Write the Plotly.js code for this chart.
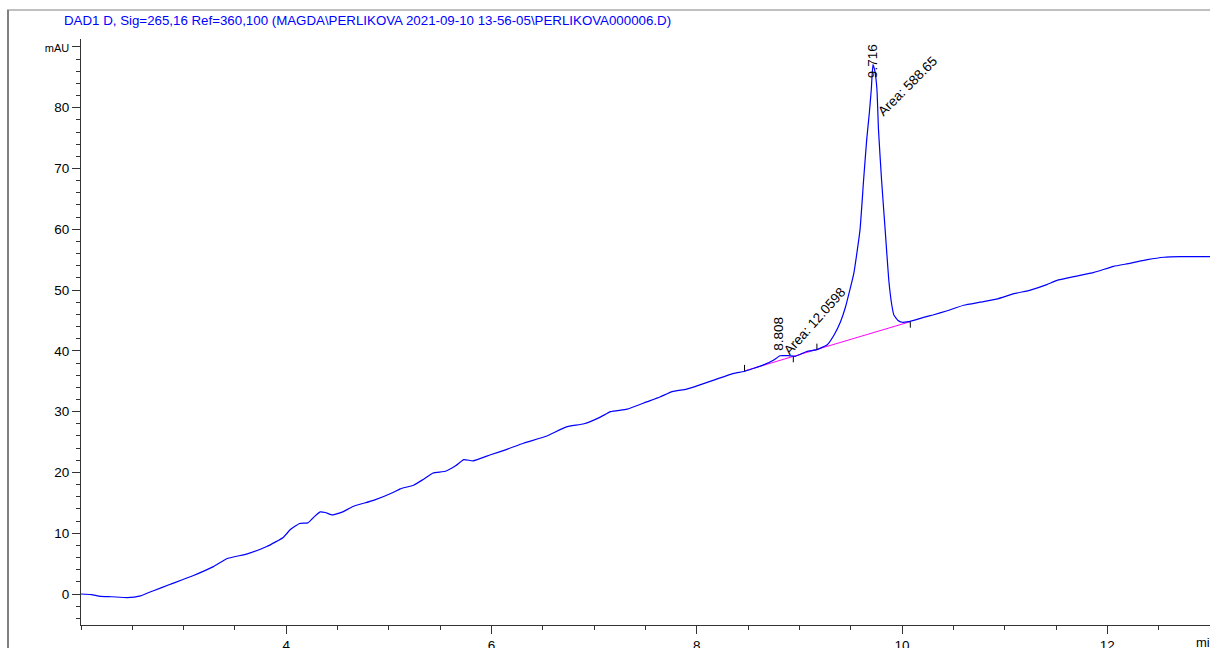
<!DOCTYPE html>
<html>
<head>
<meta charset="utf-8">
<script src="https://cdn.plot.ly/plotly-3.0.1.min.js"></script>
<style>html,body{margin:0;padding:0;background:#fff;}#chart{width:1210px;height:648px;}</style>
</head>
<body>
<div id="chart"></div>
<script>
// Signal (retention time in min, absorbance in mAU)
const timeMin = [2.00,2.10,2.19,2.30,2.45,2.58,2.70,2.87,3.09,3.29,3.42,3.62,3.81,3.97,4.04,4.13,4.21,4.26,4.33,4.38,4.45,4.55,4.65,4.85,5.04,5.11,5.24,5.33,5.43,5.55,5.65,5.73,5.82,5.99,6.15,6.31,6.54,6.73,6.90,7.06,7.16,7.32,7.51,7.64,7.76,7.90,8.03,8.20,8.36,8.46,8.55,8.65,8.75,8.81,8.89,8.96,9.07,9.17,9.27,9.34,9.40,9.45,9.53,9.59,9.625,9.655,9.68,9.70,9.716,9.735,9.755,9.77,9.80,9.835,9.87,9.90,9.92,9.96,10.00,10.06,10.13,10.21,10.30,10.44,10.60,10.76,10.92,11.09,11.25,11.41,11.51,11.67,11.87,12.06,12.22,12.39,12.55,12.71,12.87,13.00];
const signalMAU = [0.0,-0.1,-0.4,-0.45,-0.6,-0.3,0.5,1.6,3.0,4.5,5.8,6.6,7.8,9.3,10.6,11.6,11.7,12.5,13.5,13.4,13.0,13.5,14.4,15.4,16.7,17.3,17.9,18.8,19.9,20.2,21.1,22.1,21.9,22.9,23.8,24.8,26.0,27.5,28.0,29.1,30.0,30.4,31.6,32.4,33.3,33.7,34.4,35.4,36.3,36.6,37.1,37.7,38.5,39.2,39.2,39.1,39.9,40.2,41.0,42.7,44.8,47.3,52.8,59.9,68.1,74.7,79.0,83.0,87.1,86.0,83.0,76.4,68.1,59.9,51.7,47.5,45.9,45.0,44.7,44.8,45.1,45.5,45.9,46.6,47.5,48.0,48.5,49.4,50.0,50.9,51.6,52.2,52.9,53.9,54.4,55.0,55.4,55.5,55.5,55.5];

// Integration baseline events (time, value, tick direction)
const baselineT = [8.465, 8.94, 9.17, 10.08];
const baselineV = [36.7, 39.1, 40.2, 44.8];
const baselineDir = [1, -1, 1, -1];

// Peaks
const peakTimes = [8.808, 9.716];
const peakAreas = [12.0598, 588.65];

// Axis ticks
const yTickVals = [0,10,20,30,40,50,60,70,80,90];
const yTickText = ['0','10','20','30','40','50','60','70','80','<span style="font-size:11px">mAU</span>'];
const xTickVals = [4,6,8,10,12];
const xTickText = ['4','6','8','10','12'];

const titleText = 'DAD1 D, Sig=265,16 Ref=360,100 (MAGDA\\PERLIKOVA 2021-09-10 13-56-05\\PERLIKOVA000006.D)';

const W = 1210, H = 648, ML = 81, MR = 0, MT = 39, MB = 23;
const PW = W - ML - MR, PH = H - MT - MB;
const px2paperX = p => (p - ML) / PW;
const py2paperY = p => (H - MB - p) / PH;

const FONT = 'Liberation Sans, Arial, sans-serif';

const traces = [
  {x: baselineT, y: baselineV, type: 'scatter', mode: 'lines',
   line: {color: '#ff00ff', width: 1}, hoverinfo: 'skip'},
  {x: timeMin, y: signalMAU, type: 'scatter', mode: 'lines',
   line: {color: '#0000ff', width: 1.2, shape: 'spline', smoothing: 0.4}, hoverinfo: 'skip'}
];

const shapes = [
  {type: 'line', xref: 'paper', yref: 'paper', x0: px2paperX(7), x1: px2paperX(1212), y0: py2paperY(10), y1: py2paperY(10), line: {color: '#808080', width: 1}},
  {type: 'line', xref: 'paper', yref: 'paper', x0: px2paperX(8), x1: px2paperX(8), y0: py2paperY(10), y1: py2paperY(650), line: {color: '#808080', width: 2}}
];
baselineT.forEach((t, i) => {
  shapes.push({type: 'line', xref: 'x', yref: 'y', ysizemode: 'pixel', yanchor: baselineV[i],
    x0: t, x1: t, y0: 0, y1: 6 * baselineDir[i], line: {color: '#000', width: 1}});
});

const annotations = [
  {x: 9.719, y: 87.7, xref: 'x', yref: 'y', text: String(peakTimes[1]), textangle: -90, showarrow: false,
   font: {family: FONT, size: 13.5, color: '#000'}, xanchor: 'center', yanchor: 'middle'},
  {x: 10.05, y: 83.5, xref: 'x', yref: 'y', text: 'Area: ' + String(peakAreas[1]), textangle: -45, showarrow: false,
   font: {family: FONT, size: 13.5, color: '#000'}, xanchor: 'center', yanchor: 'middle'},
  {x: 8.80, y: 42.8, xref: 'x', yref: 'y', text: String(peakTimes[0]), textangle: -90, showarrow: false,
   font: {family: FONT, size: 13.5, color: '#000'}, xanchor: 'center', yanchor: 'middle'},
  {x: 9.144, y: 44.9, xref: 'x', yref: 'y', text: 'Area: ' + String(peakAreas[0]), textangle: -48, showarrow: false,
   font: {family: FONT, size: 13.5, color: '#000'}, xanchor: 'center', yanchor: 'middle'},
  {x: px2paperX(1194), y: py2paperY(642), xref: 'paper', yref: 'paper', text: 'min', showarrow: false,
   font: {family: FONT, size: 13, color: '#000'}, xanchor: 'left', yanchor: 'middle'}
];

const layout = {
  width: W, height: H,
  margin: {l: ML, r: MR, t: MT, b: MB, pad: 0},
  paper_bgcolor: '#fff', plot_bgcolor: '#fff',
  showlegend: false,
  title: {text: titleText, xref: 'container', yref: 'container', x: 64 / W, xanchor: 'left',
          y: 1 - 20 / H, yanchor: 'middle', font: {family: FONT, size: 13.3, color: '#0000ff'}},
  xaxis: {range: [2, 13], tickmode: 'array', tickvals: xTickVals, ticktext: xTickText,
          ticks: 'outside', ticklen: 8, tickcolor: '#333', tickwidth: 1,
          minor: {dtick: 0.5, tick0: 0, ticks: 'outside', ticklen: 4, tickcolor: '#333', tickwidth: 1, showgrid: false},
          showline: true, linecolor: '#333', linewidth: 1, showgrid: false, zeroline: false,
          tickfont: {family: FONT, size: 13.5, color: '#000'}, fixedrange: true},
  yaxis: {range: [-5.1, 91.3], tickmode: 'array', tickvals: yTickVals, ticktext: yTickText,
          ticks: 'outside', ticklen: 8, tickcolor: '#333', tickwidth: 1,
          minor: {dtick: 2, tick0: 0, ticks: 'outside', ticklen: 4, tickcolor: '#333', tickwidth: 1, showgrid: false},
          showline: true, linecolor: '#333', linewidth: 1, showgrid: false, zeroline: false,
          tickfont: {family: FONT, size: 13.5, color: '#000'}, fixedrange: true},
  shapes: shapes,
  annotations: annotations
};

Plotly.newPlot('chart', traces, layout, {displayModeBar: false, staticPlot: true});
</script>
</body>
</html>
